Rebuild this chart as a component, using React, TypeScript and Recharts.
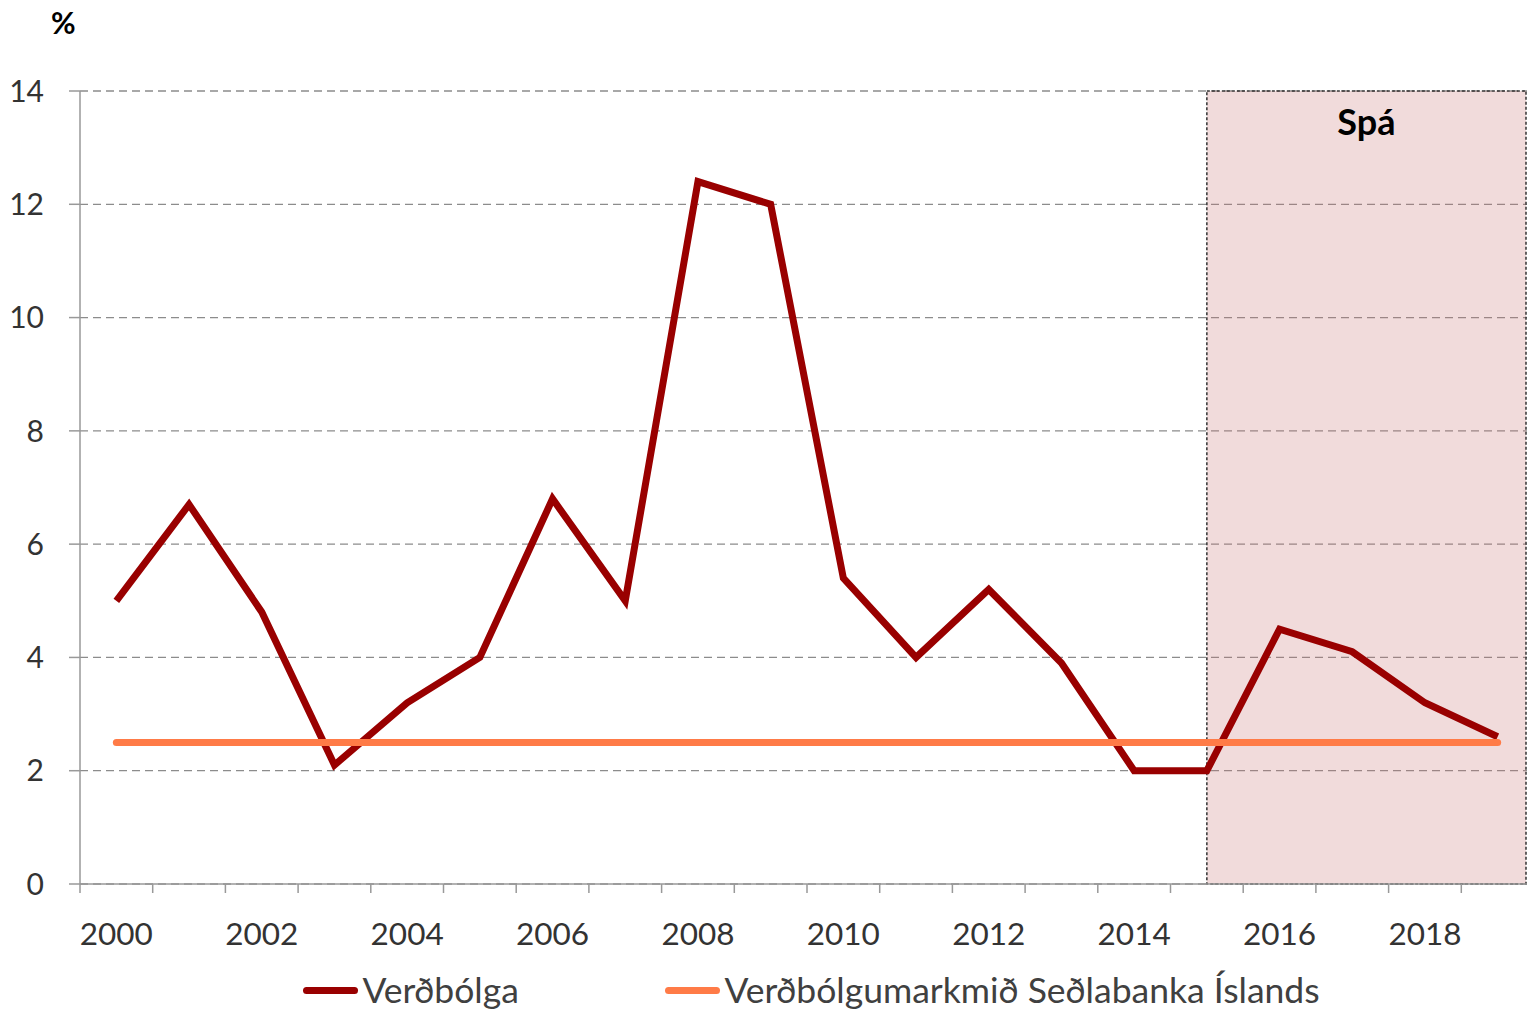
import React from 'react';
import {
  LineChart,
  Line,
  XAxis,
  YAxis,
  CartesianGrid,
  ReferenceArea,
  Legend,
} from 'recharts';

const FONT = 'Lato, "Open Sans", sans-serif';

const years = [2000, 2001, 2002, 2003, 2004, 2005, 2006, 2007, 2008, 2009, 2010, 2011, 2012, 2013, 2014, 2015, 2016, 2017, 2018, 2019];
const inflation = [5.0, 6.7, 4.8, 2.1, 3.2, 4.0, 6.8, 5.0, 12.4, 12.0, 5.4, 4.0, 5.2, 3.9, 2.0, 2.0, 4.5, 4.1, 3.2, 2.6];
const target = [2.5, 2.5, 2.5, 2.5, 2.5, 2.5, 2.5, 2.5, 2.5, 2.5, 2.5, 2.5, 2.5, 2.5, 2.5, 2.5, 2.5, 2.5, 2.5, 2.5];
const xLabelTicks = [2000, 2002, 2004, 2006, 2008, 2010, 2012, 2014, 2016, 2018];
const yTicks = [0, 2, 4, 6, 8, 10, 12, 14];
const forecastStart = 2015;
const forecastEnd = 2019.39;

const seriesNames = {
  inflation: 'Verðbólga',
  target: 'Verðbólgumarkmið Seðlabanka Íslands',
};

const rows = years.map((year, i) => ({ year, inflation: inflation[i], target: target[i] }));
const boundaryTicks = [...years.map((y) => y - 0.5), years[years.length - 1] + 0.5];
const xDomain: [number, number] = [years[0] - 0.5, years[years.length - 1] + 0.5];

const renderLegend = (props: any) => {
  const payload = props.payload || [];
  return (
    <div
      style={{
        height: 56,
        display: 'flex',
        justifyContent: 'center',
        alignItems: 'flex-end',
        fontFamily: FONT,
        fontSize: 35.5,
        color: '#404040',
      }}
    >
      {payload.map((entry: any, i: number) => (
        <div
          key={i}
          style={{
            display: 'flex',
            alignItems: 'center',
            height: 40,
            width: i === 0 ? 362 : undefined,
            flexShrink: 0,
          }}
        >
          <span
            style={{
              display: 'inline-block',
              width: 55,
              height: 7,
              borderRadius: 3.5,
              background: entry.color,
              marginRight: 4,
            }}
          />
          <span style={{ lineHeight: '40px', whiteSpace: 'nowrap' }}>{entry.value}</span>
        </div>
      ))}
    </div>
  );
};

export default function App() {
  return (
    <div style={{ position: 'absolute', left: 0, top: 0, width: 1527, height: 1010, overflow: 'hidden', background: '#fff' }}>
      <div
        style={{
          position: 'absolute',
          left: 51,
          top: 4,
          fontFamily: FONT,
          fontWeight: 'bold',
          fontSize: 30,
          color: '#000',
          lineHeight: '36px',
        }}
      >
        %
      </div>
      <LineChart width={1540} height={1010} data={rows} margin={{ top: 91, right: 6, left: 0, bottom: 0 }}>
        <CartesianGrid xAxisId="b_labels" vertical={false} stroke="#8c8c8c" strokeDasharray="8 5" strokeWidth={1.3} />
        <XAxis
          xAxisId="b_labels"
          type="number"
          dataKey="year"
          domain={xDomain}
          ticks={xLabelTicks}
          height={60}
          axisLine={false}
          tickLine={false}
          tickSize={0}
          tickMargin={29}
          tick={{ fill: '#333', fontSize: 31.5, fontFamily: FONT }}
          allowDataOverflow
        />
        <XAxis
          xAxisId="a_marks"
          type="number"
          dataKey="year"
          domain={xDomain}
          ticks={boundaryTicks}
          height={10}
          tickSize={9}
          tick={() => <g />}
          axisLine={{ stroke: '#999', strokeWidth: 1.5 }}
          tickLine={{ stroke: '#999', strokeWidth: 1.5 }}
          allowDataOverflow
        />
        <YAxis
          type="number"
          domain={[0, 14]}
          ticks={yTicks}
          width={80}
          tickSize={11}
          tickMargin={25}
          axisLine={{ stroke: '#999', strokeWidth: 1.5 }}
          tickLine={{ stroke: '#999', strokeWidth: 1.5 }}
          tick={{ fill: '#333', fontSize: 30, fontFamily: FONT }}
        />
        <Line
          xAxisId="b_labels"
          type="linear"
          dataKey="inflation"
          name={seriesNames.inflation}
          stroke="#990000"
          strokeWidth={7}
          dot={false}
          activeDot={false}
          isAnimationActive={false}
        />
        <Line
          xAxisId="b_labels"
          type="linear"
          dataKey="target"
          name={seriesNames.target}
          stroke="#FF7B47"
          strokeWidth={7}
          strokeLinecap="round"
          dot={false}
          activeDot={false}
          isAnimationActive={false}
        />
        <ReferenceArea
          xAxisId="b_labels"
          x1={forecastStart}
          x2={forecastEnd}
          y1={0}
          y2={14}
          fill="#C87070"
          fillOpacity={0.25}
          stroke="#333"
          strokeDasharray="3 2"
          strokeWidth={1.5}
          ifOverflow="extendDomain"
          label={{ value: 'Spá', position: 'insideTop', offset: 18, fontSize: 36, fontWeight: 'bold', fill: '#000', fontFamily: FONT }}
        />
        <Legend verticalAlign="bottom" height={56} content={renderLegend} wrapperStyle={{ left: 80, width: 1463 }} />
      </LineChart>
    </div>
  );
}
